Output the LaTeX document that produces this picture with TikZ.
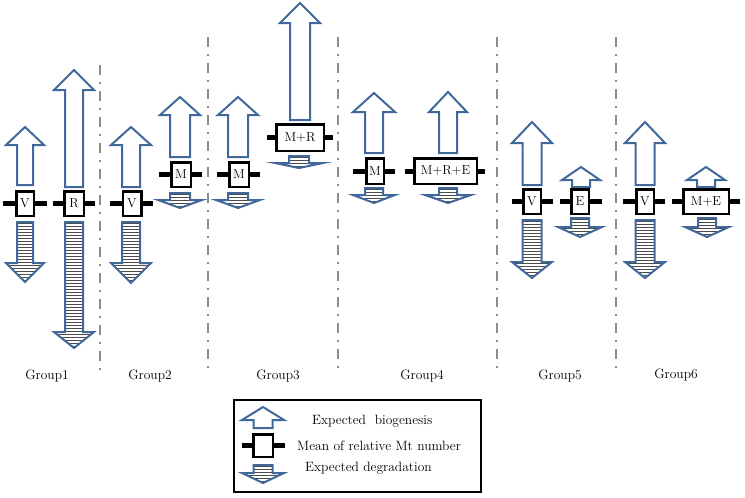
\documentclass[tikz,border=0pt]{standalone}
\usepackage{fontspec}
\definecolor{arrblue}{RGB}{64,104,154}
\definecolor{divgray}{RGB}{140,140,140}
\newcommand\UpArr[6]{% cx, tip, head base, shaft bottom, head half width, shaft half width
  \draw[arrline,fill=white] ({#1-#6},#4) -- ({#1-#6},#3) -- ({#1-#5},#3) -- (#1,#2) -- ({#1+#5},#3) -- ({#1+#6},#3) -- ({#1+#6},#4) -- cycle;}
\newcommand\DnArr[6]{% cx, top, head base, tip, head half width, shaft half width
  \begin{scope}
    \clip ({#1-#6},#2) -- ({#1-#6},#3) -- ({#1-#5},#3) -- (#1,#4) -- ({#1+#5},#3) -- ({#1+#6},#3) -- ({#1+#6},#2) -- cycle;
    \fill[white] ({#1-#5},#2) rectangle ({#1+#5},#4);
    \pgfmathtruncatemacro\nstr{(#4-#2)/3}
    \foreach \k in {0,...,\nstr}{\draw[stripe] ({#1-#5},{#2+1.5+3*\k}) -- ({#1+#5},{#2+1.5+3*\k});}
  \end{scope}
  \draw[arrline] ({#1-#6},#2) -- ({#1-#6},#3) -- ({#1-#5},#3) -- (#1,#4) -- ({#1+#5},#3) -- ({#1+#6},#3) -- ({#1+#6},#2) -- cycle;}
\begin{document}
\begin{tikzpicture}[x=1pt,y=-1pt,
  arrline/.style={draw=arrblue,line width=2pt,line join=miter},
  stripe/.style={draw=black!70,line width=0.9pt},
  bar/.style={draw=black,line width=5pt},
  mbox/.style={draw=black,line width=2.5pt,fill=white,inner sep=0pt,minimum height=24.5pt,
    font=\fontsize{13}{13}\selectfont},
  divider/.style={draw=divgray,line width=2.5pt,dash pattern=on 10pt off 7pt on 2pt off 7pt},
  grp/.style={font=\fontsize{13.5}{13.5}\selectfont,inner sep=0pt},
  legtxt/.style={font=\fontsize{13.5}{13.5}\selectfont,inner sep=0pt,anchor=west}]
\useasboundingbox (0,0) rectangle (745,498);

% dividers
\coordinate (d1t) at (100,65);  \coordinate (d1b) at (100,373);
\coordinate (d2t) at (208,37);  \coordinate (d2b) at (208,373);
\coordinate (d3t) at (338,37);  \coordinate (d3b) at (338,373);
\coordinate (d4t) at (497,37);  \coordinate (d4b) at (497,373);
\coordinate (d5t) at (616,37);  \coordinate (d5b) at (616,372);
\foreach \i in {1,...,5}{\draw[divider] (d\i t) -- (d\i b);}

% Group 1
\UpArr{25}{127}{145}{185}{19}{8}
\DnArr{25}{222}{263}{282}{19}{8}
\node[mbox,minimum width=17.5pt] (g1v) at (25,203.5) {V};
\draw[bar] (g1v.west) -- ++(-12,0); \draw[bar] (g1v.east) -- ++(12,0);
\UpArr{74}{70}{90}{187}{20}{9}
\DnArr{74}{222}{332}{348}{20}{9}
\node[mbox,minimum width=19.5pt] (g1r) at (74,203.5) {R};
\draw[bar] (g1r.west) -- ++(-10,0); \draw[bar] (g1r.east) -- ++(10,0);

% Group 2
\UpArr{131}{127}{145}{187}{20}{9}
\DnArr{131}{222}{263}{283}{20}{9}
\node[mbox,minimum width=18.5pt] (g2v) at (132,203.5) {V};
\draw[bar] (g2v.west) -- ++(-12,0); \draw[bar] (g2v.east) -- ++(10,0);
\UpArr{180}{97}{115}{157}{20}{10}
\DnArr{180}{193}{200}{208}{22}{10}
\node[mbox,minimum width=19.5pt] (g2m) at (181,174.5) {M};
\draw[bar] (g2m.west) -- ++(-11,0); \draw[bar] (g2m.east) -- ++(10,0);

% Group 3
\UpArr{238}{97}{115}{157}{20}{10}
\DnArr{238}{193}{200}{208}{22}{10}
\node[mbox,minimum width=19.5pt] (g3m) at (239,174.5) {M};
\draw[bar] (g3m.west) -- ++(-11,0); \draw[bar] (g3m.east) -- ++(10,0);
\UpArr{300}{3}{23}{120}{20}{10}
\DnArr{299}{156}{163}{168}{24}{10}
\node[mbox,minimum width=47.5pt,minimum height=26.5pt] (g3mr) at (300,137.5) {M+R};
\draw[bar] (g3mr.west) -- ++(-8,0); \draw[bar] (g3mr.east) -- ++(8,0);

% Group 4
\UpArr{374}{93}{112}{153}{21}{9}
\DnArr{374}{188}{195}{203}{21}{9}
\node[mbox,minimum width=17.5pt,minimum height=25.5pt] (g4m) at (375,171) {M};
\draw[bar] (g4m.west) -- ++(-12,0); \draw[bar] (g4m.east) -- ++(10,0);
\UpArr{448}{92}{112}{153}{19}{9}
\DnArr{448}{188}{195}{203}{23}{9}
\node[mbox,minimum width=62.5pt,minimum height=25.5pt] (g4mre) at (445.5,171) {M+R+E};
\draw[bar] (g4mre.west) -- ++(-8,0); \draw[bar] (g4mre.east) -- ++(7,0);

% Group 5
\UpArr{532}{122}{143}{185}{20}{9.5}
\DnArr{532}{220}{262}{278}{20}{9.5}
\node[mbox,minimum width=17.5pt] (g5v) at (532,201.5) {V};
\draw[bar] (g5v.west) -- ++(-10,0); \draw[bar] (g5v.east) -- ++(11,0);
\UpArr{581}{167}{180}{187}{19}{9}
\DnArr{580}{218}{227}{237}{22}{9}
\node[mbox,minimum width=17.5pt] (g5e) at (580,201.5) {E};
\draw[bar] (g5e.west) -- ++(-10,0); \draw[bar] (g5e.east) -- ++(12,0);

% Group 6
\UpArr{645}{122}{143}{185}{20}{9.5}
\DnArr{645}{220}{262}{278}{20}{9.5}
\node[mbox,minimum width=17.5pt] (g6v) at (645,201.5) {V};
\draw[bar] (g6v.west) -- ++(-12,0); \draw[bar] (g6v.east) -- ++(10,0);
\UpArr{706}{167}{180}{187}{19}{9}
\DnArr{707}{218}{227}{237}{22}{9}
\node[mbox,minimum width=45.5pt] (g6me) at (706,201.5) {M+E};
\draw[bar] (g6me.west) -- ++(-10,0); \draw[bar] (g6me.east) -- ++(10,0);

% group labels
\node[grp] (l1) at (47,376) {Group1};
\node[grp] (l2) at (150,376) {Group2};
\node[grp] (l3) at (278,376) {Group3};
\node[grp] (l4) at (422,376) {Group4};
\node[grp] (l5) at (560,376) {Group5};
\node[grp] (l6) at (676,375) {Group6};

% legend
\draw[line width=2pt] (234,400) rectangle (481,492);
\UpArr{263}{407}{420}{428}{21}{9.5}
\DnArr{263}{465}{473}{483}{21}{9.5}
\node[mbox,minimum width=19.5pt,minimum height=22.5pt] (lgbox) at (263,445.5) {};
\draw[bar] (lgbox.west) -- ++(-10,0); \draw[bar] (lgbox.east) -- ++(11,0);
\node[legtxt] (t1) at (312,421) {Expected\ \ biogenesis};
\node[legtxt] (t2) at (297,446) {Mean of relative Mt number};
\node[legtxt] (t3) at (305,468) {Expected degradation};
\end{tikzpicture}
\end{document}
